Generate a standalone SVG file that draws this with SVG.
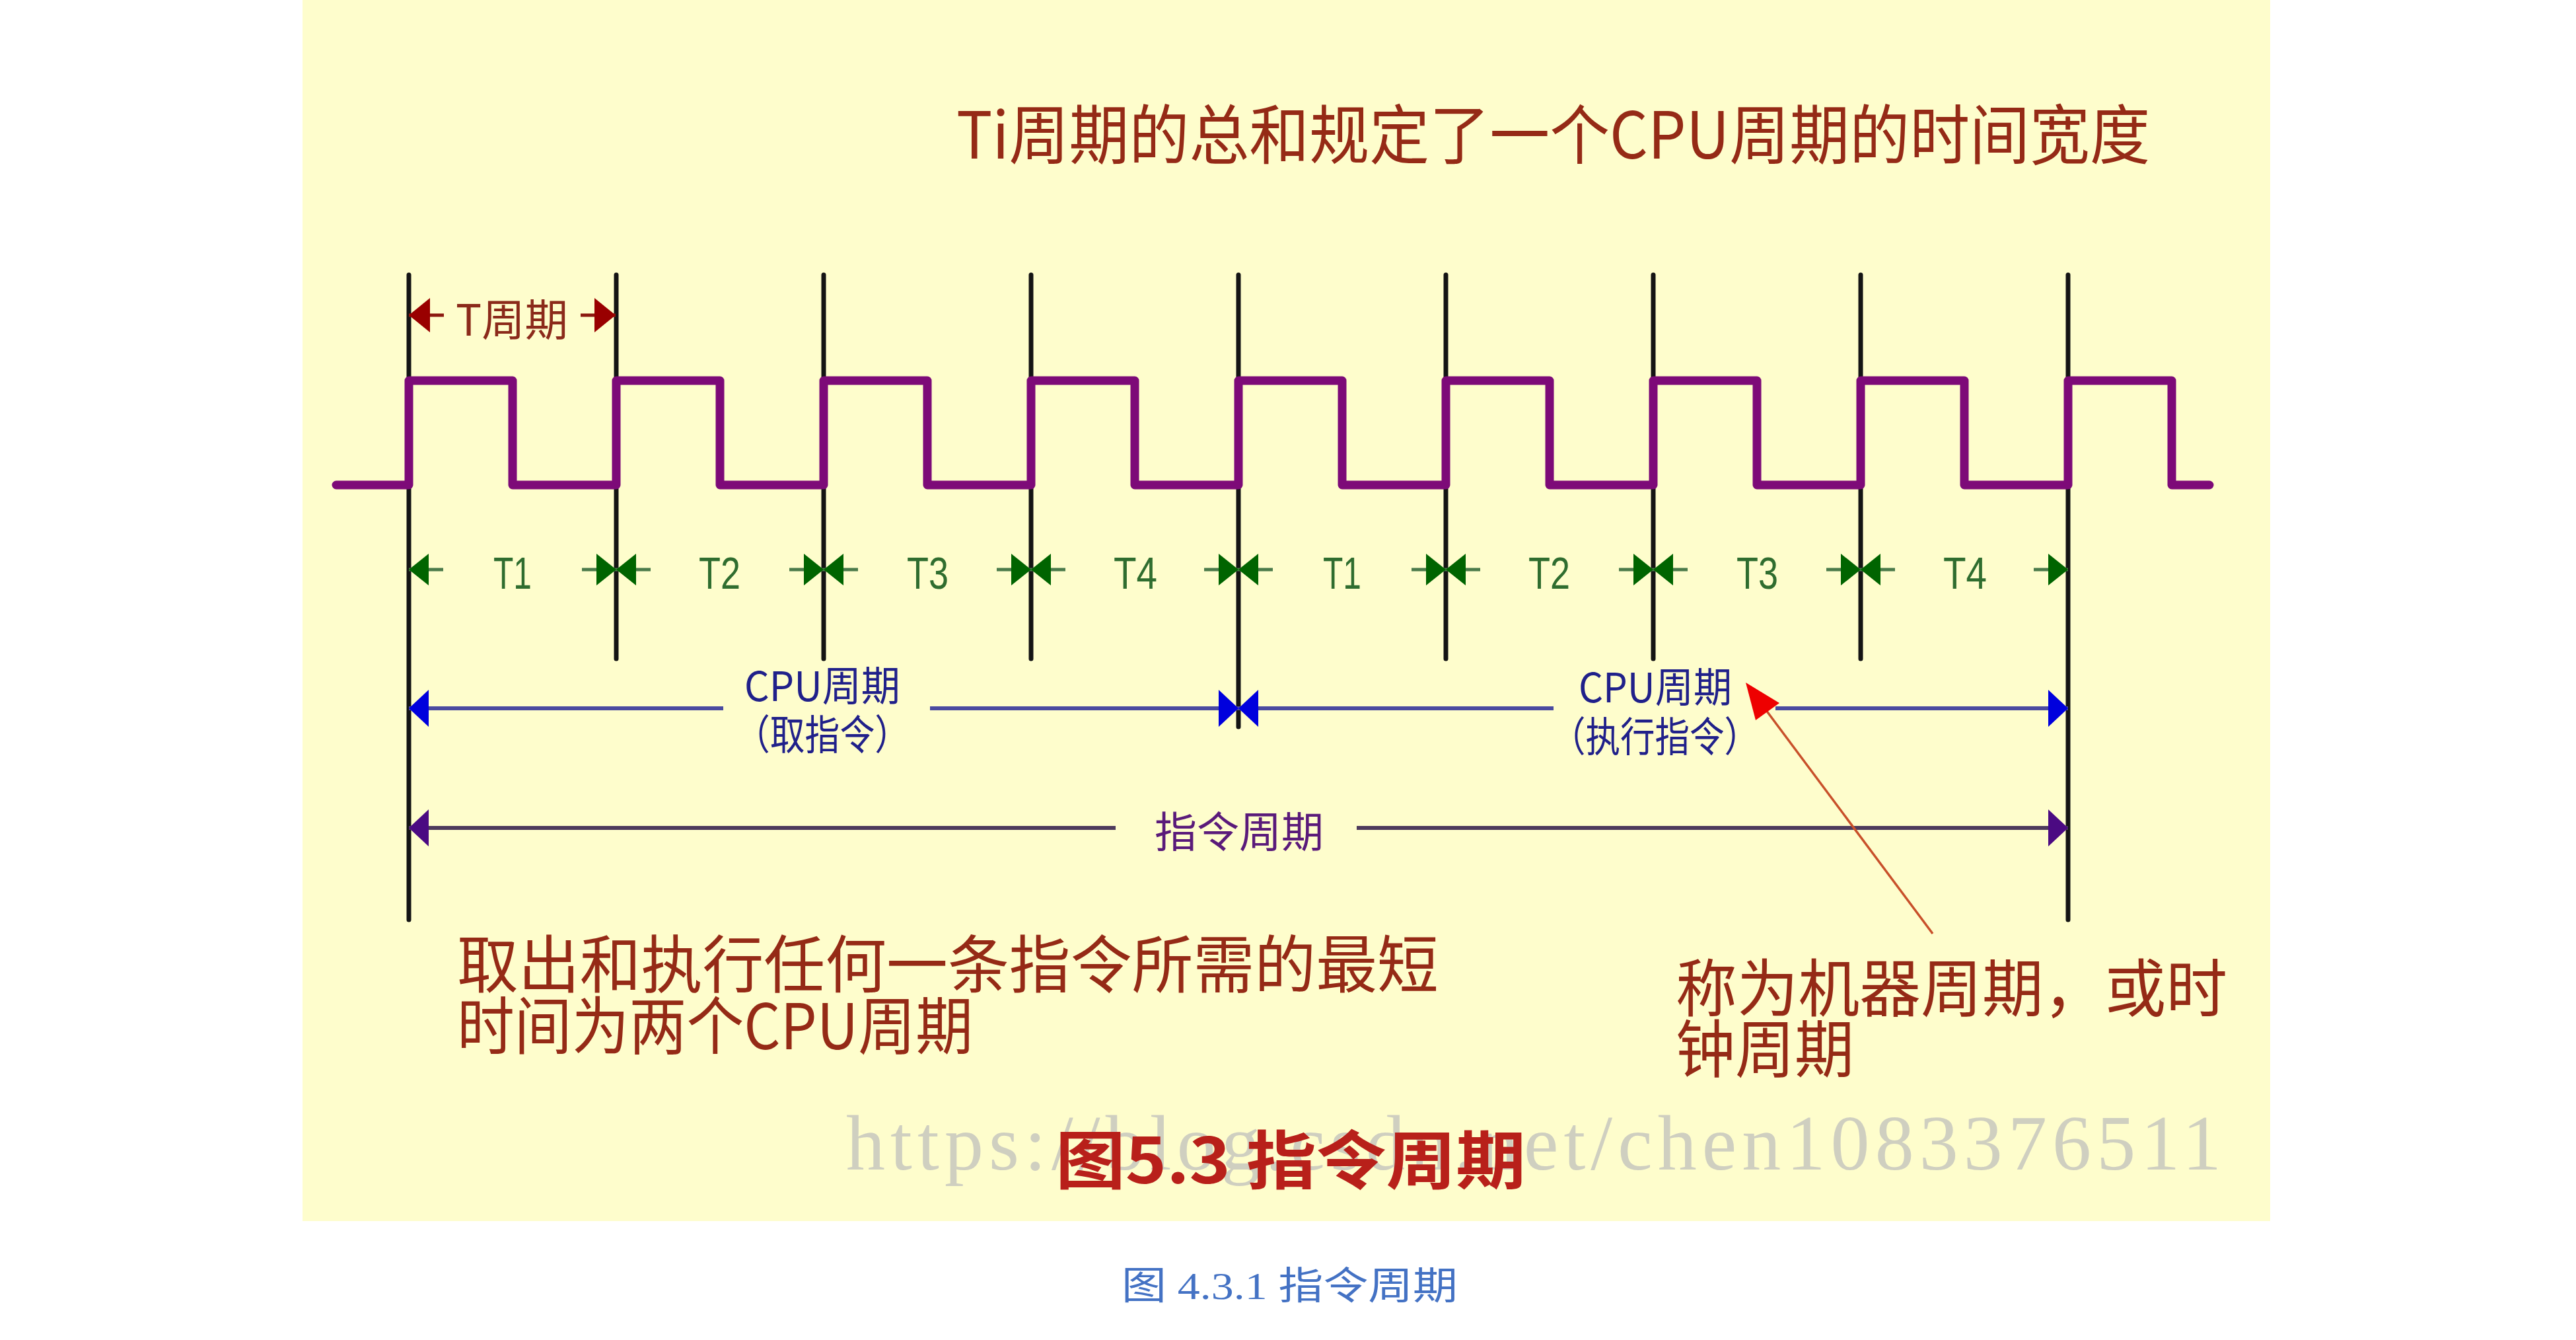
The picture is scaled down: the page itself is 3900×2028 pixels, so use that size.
<svg xmlns="http://www.w3.org/2000/svg" width="3900" height="2028" viewBox="0 0 3900 2028">
<style>
.cjk{font-family:"Noto Sans CJK SC","Liberation Sans",sans-serif;}
.red{fill:#952a16;}
.tick{stroke:#141414;stroke-width:7;stroke-linecap:round;fill:none;}
.wave{stroke:#7d0a78;stroke-width:13;stroke-linejoin:round;stroke-linecap:round;fill:none;}
.tbar{stroke:#4a7a4a;stroke-width:5;fill:none;}
.tlab{font-family:"Liberation Sans",sans-serif;font-size:68px;fill:#2f6d2f;}
.cbar{stroke:#4a4aa0;stroke-width:6;fill:none;}
.clab{fill:#20208a;font-size:62px;}
.pbar{stroke:#4d3a5c;stroke-width:6;fill:none;}
</style>
<defs>
<marker id="mGreen" viewBox="-30 -24 30 48" markerWidth="30" markerHeight="48" refX="0" refY="0" orient="auto-start-reverse" markerUnits="userSpaceOnUse"><path d="M-30,-24 L0,0 L-30,24 z" fill="#006400"/></marker>
<marker id="mDark" viewBox="-32 -26 32 52" markerWidth="32" markerHeight="52" refX="0" refY="0" orient="auto-start-reverse" markerUnits="userSpaceOnUse"><path d="M-32,-26 L0,0 L-32,26 z" fill="#990000"/></marker>
<marker id="mBlue" viewBox="-30 -28 30 56" markerWidth="30" markerHeight="56" refX="0" refY="0" orient="auto-start-reverse" markerUnits="userSpaceOnUse"><path d="M-30,-28 L0,0 L-30,28 z" fill="#0000dd"/></marker>
<marker id="mPurple" viewBox="-30 -28 30 56" markerWidth="30" markerHeight="56" refX="0" refY="0" orient="auto-start-reverse" markerUnits="userSpaceOnUse"><path d="M-30,-28 L0,0 L-30,28 z" fill="#4b0a82"/></marker>
</defs>
<rect x="0" y="0" width="3900" height="2028" fill="#ffffff"/>
<rect id="panel" x="458" y="0" width="2979" height="1848" fill="#fefdcc"/>

<text id="title" class="cjk red" x="1448" y="240" font-size="98" textLength="1807" lengthAdjust="spacingAndGlyphs">Ti周期的总和规定了一个CPU周期的时间宽度</text>

<g id="ticks">
<line class="tick" x1="619" y1="416" x2="619" y2="1392"/>
<line class="tick" x1="933" y1="416" x2="933" y2="997"/>
<line class="tick" x1="1247" y1="416" x2="1247" y2="997"/>
<line class="tick" x1="1561" y1="416" x2="1561" y2="997"/>
<line class="tick" x1="1875" y1="416" x2="1875" y2="1100"/>
<line class="tick" x1="2189" y1="416" x2="2189" y2="997"/>
<line class="tick" x1="2503" y1="416" x2="2503" y2="997"/>
<line class="tick" x1="2817" y1="416" x2="2817" y2="997"/>
<line class="tick" x1="3131" y1="416" x2="3131" y2="1392"/>
</g>

<path id="clock" class="wave" d="M509,734 H619 V576 H776 V734 H933 V576 H1090 V734 H1247 V576 H1404 V734 H1561 V576 H1718 V734 H1875 V576 H2032 V734 H2189 V576 H2346 V734 H2503 V576 H2660 V734 H2817 V576 H2974 V734 H3131 V576 H3288 V734 H3345"/>

<g id="t-period">
<path d="M619,477 H672" stroke="#8b1a10" stroke-width="5" marker-start="url(#mDark)"/>
<path d="M879,477 H932" stroke="#8b1a10" stroke-width="5" marker-end="url(#mDark)"/>
<text class="cjk" x="690" y="508" font-size="66" fill="#8b2a1a" textLength="170" lengthAdjust="spacingAndGlyphs">T周期</text>
</g>

<g id="connectors">
<g id="t-row">
<path class="tbar" d="M619,862 H671" marker-start="url(#mGreen)"/><path class="tbar" d="M881,862 H933" marker-end="url(#mGreen)"/>
<path class="tbar" d="M933,862 H985" marker-start="url(#mGreen)"/><path class="tbar" d="M1195,862 H1247" marker-end="url(#mGreen)"/>
<path class="tbar" d="M1247,862 H1299" marker-start="url(#mGreen)"/><path class="tbar" d="M1509,862 H1561" marker-end="url(#mGreen)"/>
<path class="tbar" d="M1561,862 H1613" marker-start="url(#mGreen)"/><path class="tbar" d="M1823,862 H1875" marker-end="url(#mGreen)"/>
<path class="tbar" d="M1875,862 H1927" marker-start="url(#mGreen)"/><path class="tbar" d="M2137,862 H2189" marker-end="url(#mGreen)"/>
<path class="tbar" d="M2189,862 H2241" marker-start="url(#mGreen)"/><path class="tbar" d="M2451,862 H2503" marker-end="url(#mGreen)"/>
<path class="tbar" d="M2503,862 H2555" marker-start="url(#mGreen)"/><path class="tbar" d="M2765,862 H2817" marker-end="url(#mGreen)"/>
<path class="tbar" d="M2817,862 H2869" marker-start="url(#mGreen)"/><path class="tbar" d="M3079,862 H3131" marker-end="url(#mGreen)"/>
</g>
<g id="cpu-row">
<path class="cbar" d="M619,1072 H1095" marker-start="url(#mBlue)"/>
<path class="cbar" d="M1408,1072 H1875" marker-end="url(#mBlue)"/>
<path class="cbar" d="M1875,1072 H2352" marker-start="url(#mBlue)"/>
<path class="cbar" d="M2688,1072 H3131" marker-end="url(#mBlue)"/>
</g>
<g id="instr-row">
<path class="pbar" d="M619,1253 H1689" marker-start="url(#mPurple)"/>
<path class="pbar" d="M2054,1253 H3131" marker-end="url(#mPurple)"/>
</g>
<g id="pointer">
<line x1="2926" y1="1413" x2="2665" y2="1063" stroke="#c8502a" stroke-width="3.5"/>
<polygon points="2643,1033 2694,1064 2658,1090" fill="#ee0000"/>
</g>
</g>

<g id="t-labels">
<text class="tlab" x="747" y="891" textLength="58" lengthAdjust="spacingAndGlyphs">T1</text>
<text class="tlab" x="1058" y="891" textLength="63" lengthAdjust="spacingAndGlyphs">T2</text>
<text class="tlab" x="1373" y="891" textLength="63" lengthAdjust="spacingAndGlyphs">T3</text>
<text class="tlab" x="1686" y="891" textLength="66" lengthAdjust="spacingAndGlyphs">T4</text>
<text class="tlab" x="2003" y="891" textLength="58" lengthAdjust="spacingAndGlyphs">T1</text>
<text class="tlab" x="2314" y="891" textLength="63" lengthAdjust="spacingAndGlyphs">T2</text>
<text class="tlab" x="2629" y="891" textLength="63" lengthAdjust="spacingAndGlyphs">T3</text>
<text class="tlab" x="2942" y="891" textLength="66" lengthAdjust="spacingAndGlyphs">T4</text>
</g>

<g id="cpu-fetch">
<text class="cjk clab" x="1127" y="1061" textLength="236" lengthAdjust="spacingAndGlyphs">CPU周期</text>
<text class="cjk clab" x="1113" y="1135" textLength="264" lengthAdjust="spacingAndGlyphs">（取指令）</text>
</g>
<g id="cpu-exec">
<text class="cjk clab" x="2390" y="1063" textLength="232" lengthAdjust="spacingAndGlyphs">CPU周期</text>
<text class="cjk clab" x="2348" y="1138" textLength="315" lengthAdjust="spacingAndGlyphs">（执行指令）</text>
</g>
<g id="instr-cycle">
<text class="cjk" x="1748" y="1282" font-size="64" fill="#5a1a7a" textLength="256" lengthAdjust="spacingAndGlyphs">指令周期</text>
</g>

<g id="note-left" class="cjk red" font-size="95">
<text x="692" y="1495" textLength="1486" lengthAdjust="spacingAndGlyphs">取出和执行任何一条指令所需的最短</text>
<text x="692" y="1588" textLength="781" lengthAdjust="spacingAndGlyphs">时间为两个CPU周期</text>
</g>
<g id="note-right" class="cjk red" font-size="95">
<text x="2537" y="1531" textLength="835" lengthAdjust="spacingAndGlyphs">称为机器周期，或时</text>
<text x="2537" y="1623" textLength="270" lengthAdjust="spacingAndGlyphs">钟周期</text>
</g>

<text id="watermark" x="1281" y="1770" font-family="Liberation Serif, serif" font-size="118" fill="#cfcfc0" textLength="2082" lengthAdjust="spacing">https://blog.csdn.net/chen1083376511</text>
<text id="fig-label" class="cjk" x="1598" y="1791" font-size="96" font-weight="bold" fill="#b8201a" textLength="712" lengthAdjust="spacingAndGlyphs">图5.3 指令周期</text>

<text id="caption" x="1698" y="1966" font-family="Liberation Serif, Noto Sans CJK SC, serif" font-size="58" fill="#4472c4" textLength="509" lengthAdjust="spacingAndGlyphs">图 4.3.1 指令周期</text>
</svg>
